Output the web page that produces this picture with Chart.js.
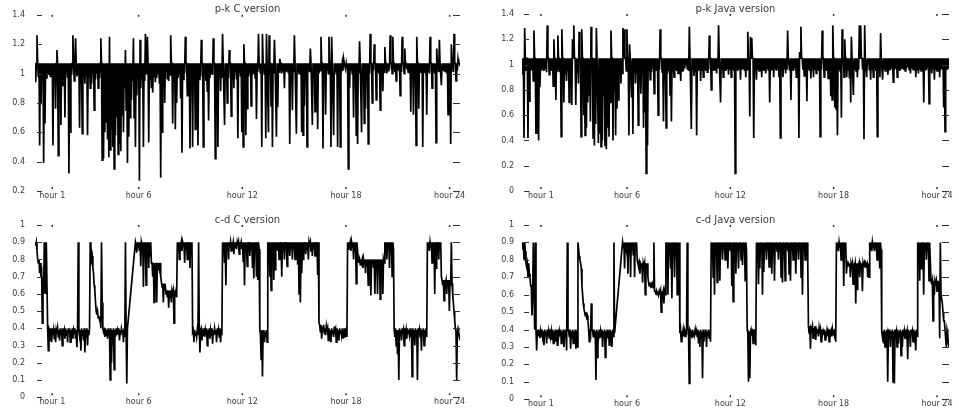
<!DOCTYPE html>
<html><head><meta charset="utf-8">
<script src="https://cdn.jsdelivr.net/npm/chart.js@4.4.1/dist/chart.umd.min.js"></script>
<style>
html,body{margin:0;padding:0;background:#fff;}
body{width:959px;height:412px;position:relative;overflow:hidden;}
.panel{position:absolute;}
</style></head><body>
<div class="panel" style="left:0;top:0;width:479px;height:206px"><canvas id="c0"></canvas></div>
<div class="panel" style="left:479px;top:0;width:480px;height:206px"><canvas id="c1"></canvas></div>
<div class="panel" style="left:0;top:206px;width:479px;height:206px"><canvas id="c2"></canvas></div>
<div class="panel" style="left:479px;top:206px;width:480px;height:206px"><canvas id="c3"></canvas></div>
<script>
// ---- data (evenly spaced samples over the day) ----
const TITLES = ['p-k C version', 'p-k Java version', 'c-d C version', 'c-d Java version'];
const HOUR_TICKS = [1, 6, 12, 18, 24];

const pkC = [
 1.07,0.94,1.07,1.26,1.07,0.98,1.07,0.51,1.07,0.79,1.07,1.0,1.07,0.39,1.07,0.66,1.07,0.97,1.07,1.0,1.07,0.99,1.07,0.98,1.07,1.01,
 1.07,0.51,1.07,0.99,1.07,0.76,1.07,1.16,1.07,0.44,1.07,0.98,1.07,0.65,1.07,0.92,1.07,1.0,1.07,0.7,1.07,1.02,1.07,0.97,1.07,0.32,
 1.07,0.6,1.07,0.99,1.07,1.26,1.07,0.95,1.07,1.24,1.07,0.98,1.07,1.0,1.07,0.63,1.07,0.97,1.07,0.59,1.07,1.02,1.07,0.93,1.07,0.99,
 1.07,0.58,1.07,0.98,1.07,0.9,1.07,0.93,1.07,1.0,1.07,0.75,1.07,0.96,1.07,1.0,1.07,0.9,1.07,0.97,1.07,1.24,1.07,0.41,1.07,0.42,
 1.07,0.6,1.07,0.67,1.07,0.55,1.07,0.43,1.25,0.48,1.07,0.62,1.07,0.5,1.07,0.35,1.07,0.58,1.07,0.7,1.07,0.45,1.07,0.52,1.07,0.47,
 1.07,0.72,1.07,0.6,1.07,0.9,1.16,0.75,1.07,0.39,1.07,0.57,1.07,0.7,1.07,0.82,1.07,0.95,1.24,0.7,1.07,0.5,1.07,0.85,1.07,0.98,
 1.07,0.27,1.23,0.9,1.07,0.97,1.07,0.5,1.07,0.95,1.27,1.0,1.07,1.25,1.07,0.53,1.07,0.96,1.07,0.9,1.07,0.87,1.07,0.98,1.07,0.94,
 1.07,0.97,1.07,1.0,1.07,0.93,1.07,0.29,1.07,0.6,1.07,0.98,1.07,0.8,1.07,1.02,1.07,0.96,1.07,0.95,1.07,0.99,1.26,1.07,1.07,0.66,
 1.07,0.98,1.07,0.62,1.07,0.8,1.07,0.97,1.07,1.0,1.07,0.83,1.07,0.46,1.07,0.96,1.07,1.0,1.25,1.07,1.07,0.85,1.07,0.99,1.07,0.49,
 1.07,0.97,1.07,0.5,1.07,1.02,1.07,0.62,1.07,0.65,1.07,0.51,1.07,0.96,1.07,0.98,1.23,1.07,1.07,0.5,1.07,1.0,1.07,0.95,1.07,0.88,
 1.07,0.68,1.07,0.97,1.07,1.0,1.07,0.99,1.24,1.07,1.07,0.42,1.07,0.98,1.07,0.5,1.07,1.01,1.07,0.88,1.07,0.97,1.27,1.07,1.07,0.65,
 1.07,0.98,1.07,0.8,1.07,0.97,1.16,1.07,1.07,0.71,1.07,0.99,1.07,0.9,1.07,1.02,1.07,0.96,1.07,0.56,1.07,1.01,1.07,0.98,1.07,0.6,
 1.07,0.5,1.2,1.07,1.07,0.58,1.07,0.76,1.07,0.98,1.07,1.0,1.07,0.78,1.07,0.99,1.07,1.0,1.07,0.97,1.07,0.69,1.07,1.01,1.27,1.07,
 1.07,1.0,1.07,0.5,1.27,1.07,1.07,0.99,1.07,0.56,1.27,1.07,1.07,0.6,1.26,1.07,1.07,0.78,1.07,0.5,1.07,1.0,1.23,1.07,1.07,0.57,
 1.07,0.77,1.07,1.01,1.1,1.07,1.07,1.0,1.07,1.02,1.07,0.9,1.07,1.01,1.07,1.02,1.07,1.0,1.07,0.52,1.07,1.02,1.07,0.75,1.07,1.01,
 1.26,1.07,1.07,0.59,1.07,1.01,1.07,1.0,1.07,1.02,1.07,0.6,1.07,0.58,1.07,0.78,1.07,1.0,1.07,0.5,1.07,1.02,1.07,1.01,1.17,1.07,
 1.07,0.65,1.07,1.01,1.07,0.74,1.07,1.02,1.07,0.62,1.07,1.0,1.07,1.02,1.25,1.07,1.07,0.49,1.07,1.01,1.07,0.72,1.07,1.02,1.07,1.0,
 1.25,1.07,1.07,0.5,1.25,1.07,1.07,0.58,1.07,1.01,1.07,1.0,1.07,0.5,1.07,1.02,1.07,0.5,1.07,1.03,1.07,1.02,1.1,1.07,1.07,1.03,
 1.07,1.04,1.07,0.35,1.07,0.9,1.07,1.02,1.07,1.0,1.07,0.7,1.07,1.01,1.07,0.58,1.07,0.52,1.07,1.0,1.22,1.07,1.07,0.6,1.07,1.02,
 1.07,0.66,1.07,0.76,1.07,1.01,1.07,0.52,1.07,1.0,1.27,1.07,1.07,0.8,1.07,1.02,1.2,1.07,1.07,0.82,1.07,1.01,1.07,1.0,1.07,0.75,
 1.07,1.02,1.07,0.88,1.07,1.01,1.18,1.07,1.07,1.0,1.07,1.02,1.07,1.03,1.26,1.07,1.07,1.0,1.25,1.07,1.07,1.01,1.07,0.95,1.07,1.02,
 1.07,1.02,1.07,0.85,1.07,1.01,1.25,1.07,1.07,1.0,1.17,1.07,1.07,1.03,1.07,1.01,1.07,1.0,1.07,0.74,1.07,1.02,1.07,0.72,1.07,1.01,
 1.07,0.51,1.25,1.07,1.07,0.76,1.07,1.01,1.07,1.02,1.07,0.5,1.07,1.01,1.07,1.03,1.07,0.72,1.07,1.02,1.07,1.0,1.25,1.07,1.07,0.9,
 1.07,1.02,1.07,1.0,1.07,0.53,1.17,1.07,1.07,1.01,1.23,1.07,1.07,0.92,1.07,1.02,1.07,1.02,1.07,1.01,1.07,1.0,1.07,0.72,1.07,1.02,
 1.07,0.52,1.2,1.07,1.07,1.01,1.27,1.07,1.07,0.95,1.07,1.02,1.1,1.07,1.07,1.05
];

const pkJava = [
 1.05,0.92,1.05,0.42,1.29,1.05,0.95,1.05,1.05,0.42,1.05,0.71,1.05,0.95,1.05,0.96,1.05,0.87,1.27,1.05,1.05,0.45,1.05,0.46,1.05,0.4,
 1.05,0.82,1.05,0.96,1.05,0.97,1.05,0.95,1.05,0.97,1.05,0.94,1.31,1.05,1.05,0.92,1.05,0.96,1.05,0.95,1.05,0.83,1.2,1.05,1.05,0.72,
 1.05,0.95,1.23,1.05,1.05,0.94,1.05,0.43,1.28,1.05,1.05,0.7,1.05,0.93,1.05,0.87,1.05,0.95,1.05,0.7,1.05,0.94,1.05,0.68,1.2,1.05,
 1.31,1.05,1.05,0.68,1.05,0.94,1.05,0.85,1.26,1.05,1.05,0.43,1.28,1.05,1.05,0.6,1.05,0.44,1.05,0.5,1.05,0.7,1.05,0.76,1.05,0.55,
 1.3,1.05,1.05,0.42,1.05,0.36,1.05,0.53,1.29,1.05,1.05,0.38,1.05,0.45,1.05,0.35,1.05,0.4,1.05,0.75,1.05,0.36,1.05,0.33,1.05,0.5,
 1.05,0.43,1.05,0.7,1.27,1.05,1.05,0.4,1.05,0.8,1.05,0.44,1.05,0.65,1.05,0.72,1.05,0.95,1.05,0.85,1.05,0.93,1.29,1.05,1.28,1.05,
 1.05,0.95,1.28,1.05,1.05,0.44,1.16,1.05,1.05,0.74,1.05,0.45,1.05,0.94,1.05,0.85,1.05,0.93,1.05,0.52,1.05,0.95,1.05,0.77,1.05,0.94,
 1.05,0.5,1.05,0.62,1.05,0.14,1.05,0.36,1.05,0.95,1.05,0.88,1.05,0.94,1.05,0.97,1.05,0.77,1.05,0.95,1.05,0.95,1.05,0.6,1.05,0.96,
 1.28,1.05,1.05,0.94,1.05,0.55,1.05,0.95,1.05,0.5,1.05,0.93,1.05,0.95,1.05,0.76,1.05,0.55,1.05,0.94,1.05,0.9,1.05,0.96,1.05,0.95,
 1.05,0.93,1.05,0.96,1.05,0.87,1.05,0.95,1.05,0.95,1.05,0.97,1.05,1.0,1.05,0.96,1.05,0.95,1.3,1.05,1.05,0.49,1.05,0.96,1.05,0.91,
 1.05,0.95,1.05,0.44,1.05,0.95,1.05,0.96,1.05,0.87,1.05,0.95,1.05,0.9,1.05,0.96,1.05,0.95,1.05,0.94,1.05,0.96,1.23,1.05,1.05,0.8,
 1.05,0.96,1.05,0.95,1.05,0.96,1.05,0.93,1.05,0.97,1.31,1.05,1.05,0.7,1.05,0.96,1.05,0.9,1.05,0.95,1.05,0.95,1.05,0.97,1.05,0.92,
 1.05,0.96,1.05,0.9,1.05,0.96,1.05,0.95,1.05,0.14,1.05,0.96,1.05,0.95,1.05,0.97,1.05,0.88,1.05,0.96,1.05,0.97,1.05,0.95,1.05,0.9,
 1.05,0.96,1.26,1.05,1.05,0.59,1.22,1.05,1.21,1.05,1.05,0.42,1.05,0.96,1.05,0.88,1.05,0.96,1.05,0.95,1.05,0.97,1.05,0.9,1.05,0.96,
 1.05,0.95,1.05,0.93,1.05,0.97,1.05,0.95,1.05,0.7,1.05,0.96,1.05,0.96,1.05,0.9,1.05,0.97,1.05,0.95,1.05,0.96,1.05,0.9,1.05,0.42,
 1.05,0.96,1.05,0.9,1.05,0.97,1.05,0.93,1.05,0.96,1.27,1.05,1.05,0.95,1.05,0.72,1.05,0.96,1.05,0.95,1.05,0.97,1.05,0.9,1.05,0.96,
 1.05,0.42,1.1,1.05,1.3,1.05,1.05,0.96,1.05,0.91,1.05,0.96,1.05,0.71,1.05,0.97,1.05,0.95,1.05,0.89,1.05,0.96,1.05,0.9,1.05,0.96,
 1.05,0.93,1.05,0.96,1.05,0.95,1.05,0.43,1.05,0.96,1.27,1.05,1.05,0.9,1.05,0.96,1.05,0.95,1.05,0.89,1.05,0.96,1.05,0.75,1.05,0.72,
 1.31,1.05,1.05,0.66,1.05,0.65,1.05,0.44,1.05,0.96,1.05,0.95,1.05,0.58,1.28,1.05,1.05,0.9,1.2,1.05,1.05,0.9,1.05,0.96,1.05,0.89,
 1.05,0.7,1.22,1.05,1.05,0.76,1.05,0.96,1.05,0.95,1.05,0.9,1.05,0.96,1.31,1.05,1.31,1.05,1.05,0.96,1.05,0.41,1.31,1.05,1.05,0.9,
 1.05,1.0,1.05,0.96,1.05,0.88,1.05,0.96,1.05,0.9,1.05,0.97,1.05,0.95,1.05,0.43,1.05,0.96,1.05,0.9,1.25,1.05,1.05,0.88,1.05,0.96,
 1.05,0.95,1.05,0.97,1.05,0.92,1.05,0.96,1.05,0.96,1.05,0.97,1.05,0.86,1.05,0.96,1.05,0.97,1.05,0.9,1.05,0.96,1.05,0.95,1.05,0.97,
 1.05,0.97,1.05,0.96,1.05,0.95,1.05,0.97,1.05,0.98,1.05,0.96,1.05,0.93,1.05,0.97,1.05,0.96,1.05,0.97,1.05,0.9,1.05,0.96,1.05,0.93,
 1.05,0.96,1.05,0.95,1.05,0.97,1.05,0.7,1.05,0.96,1.05,0.96,1.05,0.97,1.05,0.69,1.05,0.96,1.05,0.93,1.05,0.97,1.05,0.88,1.05,0.96,
 1.05,0.95,1.05,0.96,1.05,0.9,1.05,0.97,1.05,0.96,1.05,0.66,1.05,0.47,1.05,0.96,1.05,0.96,1.05,0.97
];

const cdC = [
 0.9,0.88,0.9,0.85,0.8,0.78,0.8,0.72,0.78,0.7,0.72,0.43,0.7,0.6,0.9,0.65,0.6,0.9,0.9,0.4,0.27,0.4,0.39,0.33,0.4,0.32,
 0.4,0.36,0.39,0.34,0.4,0.32,0.39,0.37,0.4,0.35,0.39,0.33,0.4,0.36,0.39,0.3,0.4,0.37,0.39,0.34,0.4,0.36,0.39,0.32,0.4,0.37,
 0.4,0.32,0.39,0.36,0.4,0.34,0.39,0.37,0.4,0.34,0.39,0.29,0.4,0.9,0.4,0.36,0.39,0.27,0.4,0.36,0.39,0.33,0.4,0.26,0.39,0.35,
 0.4,0.3,0.39,0.36,0.4,0.9,0.88,0.8,0.82,0.75,0.72,0.65,0.62,0.55,0.5,0.48,0.5,0.46,0.47,0.45,0.46,0.4,0.9,0.55,0.4,0.38,
 0.39,0.35,0.4,0.36,0.39,0.34,0.4,0.36,0.39,0.1,0.4,0.2,0.39,0.3,0.4,0.16,0.39,0.35,0.4,0.36,0.39,0.37,0.4,0.33,0.39,0.36,
 0.4,0.38,0.39,0.32,0.4,0.35,0.9,0.39,0.08,0.4,null,null,null,null,null,null,null,null,null,null,0.86,0.9,0.88,0.84,0.9,0.87,
 0.9,0.85,0.9,0.76,0.9,0.88,0.9,0.64,0.9,0.86,0.9,0.65,0.9,0.84,0.9,0.75,0.9,0.82,0.9,0.78,0.78,0.7,0.78,0.55,0.78,0.72,
 0.78,0.55,0.78,0.74,0.78,0.75,0.78,0.7,0.67,0.64,0.66,0.55,0.66,0.63,0.64,0.6,0.62,0.58,0.62,0.52,0.62,0.58,0.62,0.55,0.62,0.6,
 0.62,0.43,0.62,0.6,0.62,0.58,0.9,0.85,0.9,0.8,0.9,0.87,0.9,0.85,0.9,0.88,0.9,0.78,0.9,0.86,0.9,0.8,0.9,0.87,0.9,0.75,
 0.9,0.85,0.9,0.38,0.39,0.32,0.39,0.36,0.38,0.35,0.39,0.36,0.9,0.4,0.26,0.39,0.4,0.33,0.39,0.36,0.4,0.35,0.39,0.36,0.4,0.3,
 0.39,0.35,0.4,0.34,0.39,0.36,0.4,0.31,0.39,0.36,0.4,0.37,0.39,0.32,0.4,0.36,0.39,0.35,0.4,0.32,0.39,0.36,0.9,0.85,0.9,0.78,
 0.9,0.65,0.9,0.86,0.9,0.8,0.9,0.87,0.9,0.85,0.9,0.88,0.9,0.83,0.9,0.87,0.9,0.86,0.9,0.88,0.9,0.83,0.9,0.88,0.9,0.86,
 0.9,0.79,0.9,0.65,0.9,0.86,0.9,0.76,0.9,0.87,0.9,0.82,0.9,0.86,0.9,0.75,0.9,0.69,0.9,0.85,0.9,0.7,0.9,0.68,0.9,0.86,
 0.39,0.36,0.22,0.39,0.12,0.38,0.39,0.32,0.38,0.35,0.39,0.32,0.9,0.86,0.9,0.7,0.9,0.62,0.9,0.85,0.9,0.68,0.9,0.74,0.9,0.86,
 0.9,0.85,0.9,0.8,0.9,0.87,0.9,0.7,0.9,0.86,0.9,0.8,0.9,0.87,0.9,0.76,0.9,0.86,0.9,0.82,0.9,0.87,0.9,0.8,0.9,0.86,
 0.9,0.8,0.9,0.86,0.9,0.77,0.9,0.6,0.9,0.55,0.9,0.72,0.9,0.8,0.9,0.87,0.9,0.83,0.9,0.86,0.9,0.8,0.9,0.88,0.9,0.85,
 0.9,0.82,0.9,0.86,0.9,0.82,0.9,0.87,0.9,0.71,0.9,0.43,0.42,0.38,0.42,0.34,0.41,0.38,0.42,0.37,0.4,0.36,0.41,0.38,0.4,0.33,
 0.4,0.36,0.39,0.32,0.4,0.37,0.39,0.35,0.41,0.37,0.39,0.32,0.4,0.36,0.39,0.33,0.4,0.37,0.39,0.36,0.4,0.34,0.39,0.35,0.4,0.37,
 0.39,0.35,0.9,0.86,0.9,0.88,0.9,0.85,0.9,0.87,0.9,0.8,0.9,0.86,0.9,0.66,0.9,0.85,0.8,0.78,0.8,0.77,0.8,0.78,0.8,0.75,
 0.8,0.77,0.8,0.72,0.8,0.77,0.8,0.65,0.8,0.76,0.8,0.59,0.8,0.77,0.8,0.75,0.8,0.6,0.8,0.77,0.8,0.6,0.8,0.76,0.8,0.57,
 0.8,0.77,0.8,0.6,0.8,0.78,0.9,0.86,0.9,0.8,0.9,0.87,0.9,0.75,0.9,0.86,0.9,0.7,0.9,0.86,0.4,0.35,0.4,0.3,0.39,0.25,
 0.39,0.1,0.4,0.36,0.39,0.33,0.4,0.37,0.39,0.3,0.4,0.36,0.39,0.34,0.4,0.37,0.39,0.36,0.4,0.35,0.39,0.12,0.4,0.36,0.39,0.3,
 0.4,0.36,0.39,0.1,0.4,0.36,0.39,0.35,0.4,0.27,0.39,0.36,0.4,0.3,0.39,0.36,0.4,0.35,0.9,0.86,0.9,0.85,0.9,0.87,0.9,0.78,
 0.9,0.86,0.9,0.6,0.9,0.75,0.9,0.87,0.9,0.8,0.9,0.86,0.9,0.7,0.68,0.65,0.68,0.56,0.68,0.66,0.68,0.6,0.68,0.65,0.68,0.5,
 0.68,0.65,0.9,0.66,0.6,0.55,0.5,0.45,0.4,0.38,0.1,0.38,0.4,0.38,0.35,0.33
];

const cdJava = [
 0.9,0.86,0.9,0.8,0.9,0.85,0.78,0.76,0.78,0.7,0.78,0.72,0.7,0.65,0.65,0.48,0.6,0.9,0.9,0.4,0.9,0.4,0.28,0.39,0.4,0.36,
 0.4,0.35,0.39,0.36,0.4,0.36,0.39,0.31,0.4,0.37,0.39,0.32,0.4,0.36,0.39,0.35,0.4,0.36,0.39,0.34,0.4,0.32,0.39,0.36,0.4,0.33,
 0.39,0.31,0.4,0.36,0.39,0.36,0.4,0.32,0.39,0.35,0.4,0.3,0.39,0.36,0.4,0.28,0.9,0.4,0.39,0.36,0.4,0.29,0.39,0.35,0.4,0.32,
 0.39,0.35,0.4,0.29,0.39,0.3,0.9,0.86,0.82,0.8,0.78,0.75,0.65,0.6,0.55,0.52,0.5,0.48,0.5,0.47,0.48,0.45,0.4,0.33,0.4,0.38,
 0.55,0.4,0.39,0.36,0.4,0.35,0.39,0.11,0.4,0.24,0.39,0.36,0.4,0.35,0.39,0.36,0.4,0.3,0.39,0.36,0.4,0.24,0.39,0.36,0.4,0.35,
 0.39,0.31,0.4,0.36,0.39,0.3,0.4,0.36,0.9,0.38,null,null,null,null,null,null,null,null,null,null,0.86,0.9,0.87,0.9,0.75,0.9,
 0.9,0.85,0.9,0.72,0.9,0.86,0.9,0.7,0.9,0.87,0.9,0.83,0.9,0.7,0.9,0.86,0.9,0.8,0.78,0.76,0.78,0.72,0.78,0.77,0.78,0.67,
 0.78,0.76,0.78,0.6,0.78,0.75,0.78,0.7,0.67,0.65,0.67,0.65,0.66,0.64,0.66,0.64,0.9,0.62,0.62,0.6,0.62,0.6,0.62,0.6,0.62,0.6,
 0.62,0.5,0.62,0.6,0.62,0.55,0.62,0.6,0.9,0.86,0.9,0.6,0.9,0.86,0.9,0.75,0.9,0.58,0.9,0.86,0.9,0.7,0.9,0.87,0.9,0.6,
 0.9,0.62,0.9,0.38,0.4,0.33,0.39,0.37,0.4,0.36,0.39,0.36,0.4,0.37,0.9,0.4,0.4,0.09,0.4,0.39,0.39,0.35,0.4,0.36,0.39,0.37,
 0.4,0.37,0.39,0.36,0.4,0.32,0.39,0.3,0.4,0.36,0.39,0.12,0.4,0.33,0.39,0.36,0.4,0.3,0.39,0.36,0.4,0.35,0.39,0.33,0.9,0.86,
 0.9,0.7,0.9,0.6,0.9,0.86,0.9,0.67,0.9,0.85,0.9,0.68,0.9,0.86,0.9,0.8,0.9,0.86,0.9,0.8,0.9,0.87,0.9,0.75,0.9,0.86,
 0.9,0.85,0.9,0.65,0.9,0.56,0.9,0.86,0.9,0.72,0.9,0.86,0.9,0.75,0.9,0.87,0.9,0.8,0.9,0.77,0.9,0.86,0.9,0.68,0.9,0.86,
 0.4,0.38,0.1,0.39,0.12,0.38,0.4,0.38,0.39,0.32,0.4,0.38,0.39,0.31,0.9,0.86,0.9,0.66,0.9,0.75,0.9,0.86,0.9,0.6,0.9,0.73,
 0.9,0.86,0.9,0.8,0.9,0.86,0.9,0.76,0.9,0.86,0.9,0.72,0.9,0.86,0.9,0.68,0.9,0.86,0.9,0.85,0.9,0.8,0.9,0.86,0.9,0.7,
 0.9,0.67,0.9,0.86,0.9,0.68,0.9,0.86,0.9,0.85,0.9,0.72,0.9,0.68,0.9,0.86,0.9,0.8,0.9,0.86,0.9,0.72,0.9,0.86,0.9,0.8,
 0.9,0.86,0.9,0.7,0.9,0.6,0.9,0.86,0.9,0.8,0.9,0.86,0.9,0.78,0.42,0.38,0.42,0.29,0.41,0.4,0.42,0.35,0.41,0.39,0.42,0.34,
 0.41,0.38,0.4,0.36,0.41,0.38,0.4,0.33,0.4,0.37,0.39,0.37,0.4,0.34,0.39,0.37,0.4,0.38,0.39,0.33,0.4,0.37,0.39,0.36,0.4,0.37,
 0.4,0.37,0.39,0.33,0.9,0.86,0.9,0.85,0.9,0.87,0.9,0.8,0.9,0.86,0.9,0.65,0.9,0.86,0.9,0.72,0.78,0.76,0.78,0.77,0.78,0.7,
 0.78,0.76,0.78,0.66,0.78,0.76,0.78,0.55,0.78,0.63,0.78,0.76,0.78,0.7,0.78,0.77,0.78,0.62,0.78,0.76,0.78,0.76,0.78,0.77,0.78,0.7,
 0.78,0.7,0.9,0.86,0.9,0.85,0.9,0.87,0.9,0.85,0.9,0.86,0.9,0.8,0.9,0.86,0.9,0.75,0.9,0.86,0.39,0.36,0.39,0.32,0.4,0.3,
 0.39,0.36,0.4,0.1,0.39,0.38,0.4,0.3,0.39,0.36,0.4,0.1,0.39,0.09,0.4,0.37,0.39,0.3,0.4,0.32,0.39,0.36,0.4,0.25,0.39,0.3,
 0.4,0.36,0.39,0.35,0.4,0.37,0.39,0.23,0.4,0.36,0.39,0.3,0.4,0.37,0.39,0.33,0.4,0.36,0.39,0.28,0.4,0.36,0.9,0.86,0.9,0.68,
 0.9,0.75,0.9,0.86,0.9,0.6,0.9,0.86,0.9,0.8,0.9,0.86,0.9,0.68,0.9,0.78,0.68,0.66,0.68,0.45,0.68,0.6,0.68,0.66,0.68,0.62,
 0.68,0.65,0.68,0.35,0.9,0.6,0.6,0.55,0.5,0.45,0.45,0.4,0.4,0.3,0.4,0.38,0.32,0.3
];

// ---- rendering ----
const FONT = 'DejaVu Sans, Liberation Sans, sans-serif';
const TXT = '#3a3a3a';

const tickMarks = {
  id: 'tickMarks',
  afterDraw(chart) {
    const {ctx, chartArea: a, scales: {x, y}} = chart;
    ctx.save();
    ctx.strokeStyle = '#333';
    ctx.lineWidth = 1;
    const seg = (x1, y1, x2, y2) => { ctx.beginPath(); ctx.moveTo(x1, y1); ctx.lineTo(x2, y2); ctx.stroke(); };
    y.ticks.forEach(t => {
      const py = Math.round(y.getPixelForValue(t.value)) + 0.5;
      seg(a.left + 2, py, a.left + 7, py);
      seg(a.right - 7, py, a.right, py);
    });
    ctx.lineWidth = 1.5;
    x.ticks.forEach(t => {
      const px = x.getPixelForValue(t.value);
      seg(px, a.top, px, a.top + 2);
      seg(px, a.bottom - 4, px, a.bottom - 2);
    });
    ctx.restore();
  }
};

function toPoints(values, x0, x1) {
  const step = (x1 - x0) / (values.length - 1);
  return values.map((v, i) => ({x: x0 + i * step, y: v}));
}

function makeChart(id, cfg) {
  return new Chart(document.getElementById(id), {
    type: 'line',
    data: {datasets: [{
      data: toPoints(cfg.values, cfg.xMin, cfg.xMax),
      borderColor: '#000', borderWidth: 1.7, pointRadius: 0, tension: 0,
      spanGaps: true, fill: false, borderJoinStyle: 'miter'
    }]},
    options: {
      responsive: true, maintainAspectRatio: false, animation: false, devicePixelRatio: 1,
      layout: {padding: {left: 0, right: cfg.padRight, top: 0, bottom: 0}},
      plugins: {
        legend: {display: false}, tooltip: {enabled: false},
        title: {display: true, text: cfg.title, color: TXT, fullSize: false,
          font: {family: FONT, size: 10, lineHeight: 1, weight: 'normal'},
          padding: {top: cfg.titleTop, bottom: 0}}
      },
      scales: {
        x: {type: 'linear', min: cfg.xMin, max: cfg.xMax,
          grid: {display: false, drawTicks: false}, border: {display: false},
          afterBuildTicks: s => { s.ticks = HOUR_TICKS.map(v => ({value: v})); },
          afterFit: s => { s.height = cfg.xAxisH; },
          ticks: {color: TXT, font: {family: FONT, size: 8}, padding: 0, maxRotation: 0,
            autoSkip: false, callback: v => 'hour ' + v}},
        y: {type: 'linear', min: cfg.yMin, max: cfg.yMax,
          grid: {display: false, drawTicks: false}, border: {display: false},
          afterFit: s => { s.width = cfg.yAxisW; },
          ticks: {stepSize: cfg.yStep, color: TXT, font: {family: FONT, size: 8},
            padding: cfg.yPad, callback: v => String(+Number(v).toFixed(2))}}
      }
    },
    plugins: [tickMarks]
  });
}

makeChart('c0', {title: TITLES[0], values: pkC, xMin: 0, xMax: 24.6, yMin: 0.2, yMax: 1.4, yStep: 0.2,
  yAxisW: 35, yPad: 10, padRight: 19, titleTop: 4, xAxisH: 15});
makeChart('c1', {title: TITLES[1], values: pkJava, xMin: -0.1, xMax: 24.7, yMin: 0, yMax: 1.4, yStep: 0.2,
  yAxisW: 43, yPad: 8, padRight: 10, titleTop: 4, xAxisH: 15});
makeChart('c2', {title: TITLES[2], values: cdC, xMin: 0, xMax: 24.6, yMin: 0, yMax: 1, yStep: 0.1,
  yAxisW: 35, yPad: 10, padRight: 19, titleTop: 9, xAxisH: 10});
makeChart('c3', {title: TITLES[3], values: cdJava, xMin: -0.1, xMax: 24.7, yMin: 0, yMax: 1, yStep: 0.1,
  yAxisW: 43, yPad: 8, padRight: 10, titleTop: 9, xAxisH: 10});
</script>
</body></html>
